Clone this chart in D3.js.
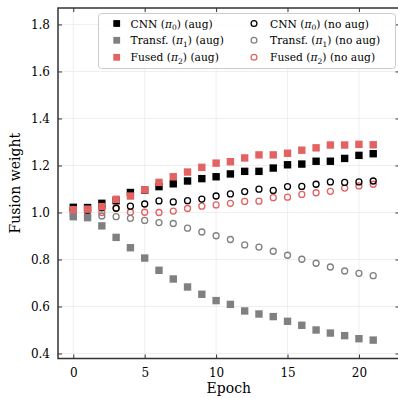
<!DOCTYPE html>
<html><head><meta charset="utf-8">
<script src="https://cdn.jsdelivr.net/npm/d3@7"></script>
<style>
body{margin:0;background:#fff}
svg{display:block}
text{font-family:"DejaVu Serif",serif;fill:#000}
</style>
</head><body>
<svg id="c" width="398" height="398"></svg>
<script>
const epochs = [0,1,2,3,4,5,6,7,8,9,10,11,12,13,14,15,16,17,18,19,20,21];
const cnnAug    = [1.022,1.021,1.039,1.050,1.085,1.095,1.110,1.122,1.134,1.144,1.152,1.164,1.175,1.175,1.189,1.203,1.206,1.218,1.218,1.230,1.243,1.250];
const transfAug = [0.982,0.978,0.943,0.894,0.850,0.806,0.754,0.717,0.683,0.652,0.625,0.609,0.581,0.568,0.557,0.537,0.520,0.500,0.487,0.476,0.463,0.457];
const fusedAug  = [1.012,1.014,1.025,1.056,1.070,1.096,1.128,1.152,1.172,1.192,1.210,1.216,1.232,1.245,1.245,1.252,1.265,1.275,1.287,1.287,1.290,1.288];
const cnnNo     = [1.010,1.010,1.020,1.018,1.027,1.036,1.049,1.045,1.050,1.057,1.070,1.079,1.089,1.099,1.094,1.110,1.111,1.120,1.130,1.128,1.130,1.134];
const transfNo  = [0.985,0.985,0.985,0.982,0.975,0.966,0.957,0.953,0.933,0.917,0.901,0.885,0.862,0.853,0.835,0.818,0.801,0.784,0.768,0.751,0.741,0.731];
const fusedNo   = [1.000,1.000,1.000,1.018,1.001,1.001,1.000,1.006,1.017,1.027,1.032,1.039,1.047,1.048,1.063,1.065,1.077,1.084,1.090,1.104,1.113,1.120];
const xTicks = [0,5,10,15,20];
const yTicks = [0.4,0.6,0.8,1.0,1.2,1.4,1.6,1.8];

const BLACK="#000000", GRAY="#808080", RED="#e36262";
const series = [
  {name:["Fused (","π","2",") (no aug)"], vals:fusedNo, color:RED, shape:"circle"},
  {name:["Transf. (","π","1",") (no aug)"], vals:transfNo, color:GRAY, shape:"circle"},
  {name:["CNN (","π","0",") (no aug)"], vals:cnnNo, color:BLACK, shape:"circle"},
  {name:["CNN (","π","0",") (aug)"], vals:cnnAug, color:BLACK, shape:"square"},
  {name:["Transf. (","π","1",") (aug)"], vals:transfAug, color:GRAY, shape:"square"},
  {name:["Fused (","π","2",") (aug)"], vals:fusedAug, color:RED, shape:"square"}
];

const L=58, R=399.5, T=8, B=358.5;
const x = d3.scaleLinear().domain([-1.07, 22.84]).range([L, R]);
const y = d3.scaleLinear().domain([0.3787, 1.870]).range([B, T]);

const svg = d3.select("#c");
svg.append("rect").attr("width",398).attr("height",398).attr("fill","#fff");

// grid
const grid = svg.append("g");
grid.selectAll("line.gx").data(xTicks).join("line")
  .attr("x1",d=>x(d)).attr("x2",d=>x(d)).attr("y1",T).attr("y2",B)
  .attr("stroke","#ebebeb").attr("stroke-width",0.8);
grid.selectAll("line.gy").data(yTicks).join("line")
  .attr("y1",d=>y(d)).attr("y2",d=>y(d)).attr("x1",L).attr("x2",R)
  .attr("stroke","#ebebeb").attr("stroke-width",0.8);

// markers
const SQ=7.4, CR=3.0;
function drawSeries(g, s){
  if(s.shape==="square"){
    g.selectAll("rect").data(epochs).join("rect")
      .attr("x",(d,i)=>x(d)-SQ/2).attr("y",(d,i)=>y(s.vals[i])-SQ/2)
      .attr("width",SQ).attr("height",SQ).attr("fill",s.color);
  } else {
    g.selectAll("circle").data(epochs).join("circle")
      .attr("cx",d=>x(d)).attr("cy",(d,i)=>y(s.vals[i])).attr("r",CR)
      .attr("fill","none").attr("stroke",s.color).attr("stroke-width",1.3);
  }
}
series.forEach(s=>drawSeries(svg.append("g"), s));

// axes (ticks inward on all sides)
const axCol="#333333";
const fmt = d3.format(".1f");
const gL = svg.append("g").attr("transform",`translate(${L},0)`)
  .call(d3.axisLeft(y).tickValues(yTicks).tickFormat(fmt).tickSizeInner(-4).tickSizeOuter(0).tickPadding(8));
const gB = svg.append("g").attr("transform",`translate(0,${B})`)
  .call(d3.axisBottom(x).tickValues(xTicks).tickFormat(d3.format("d")).tickSizeInner(-4).tickSizeOuter(0).tickPadding(10));
const gRt = svg.append("g").attr("transform",`translate(${R},0)`)
  .call(d3.axisRight(y).tickValues(yTicks).tickFormat("").tickSizeInner(-4).tickSizeOuter(0));
const gTp = svg.append("g").attr("transform",`translate(0,${T})`)
  .call(d3.axisTop(x).tickValues(xTicks).tickFormat("").tickSizeInner(-4).tickSizeOuter(0));
[gL,gB,gRt,gTp].forEach(g=>{
  g.select(".domain").remove();
  g.selectAll(".tick line").attr("stroke",axCol).attr("stroke-width",1);
  g.selectAll("text").attr("font-family","DejaVu Serif").attr("font-size",12).attr("fill","#000");
});
// frame
svg.append("rect").attr("x",L).attr("y",T).attr("width",R-L).attr("height",B-T)
  .attr("fill","none").attr("stroke",axCol).attr("stroke-width",1.5);

// axis labels
svg.append("text").attr("x",(L+R)/2).attr("y",393).attr("text-anchor","middle")
  .attr("font-size",14).text("Epoch");
svg.append("text").attr("transform",`translate(20,${(T+B)/2}) rotate(-90)`).attr("text-anchor","middle")
  .attr("font-size",14).text("Fusion weight");

// legend
const lg = svg.append("g");
lg.append("rect").attr("x",98.5).attr("y",13.5).attr("width",297).attr("height",55).attr("rx",3)
  .attr("fill","#fff").attr("fill-opacity",0.85).attr("stroke","#cccccc").attr("stroke-width",1);
const order = [3,4,5,2,1,0];
const colX = [116.7, 254], textX=[130.5, 270], rowY=[23.5, 40.3, 57.3];
order.forEach((si,k)=>{
  const s=series[si], c=Math.floor(k/3), r=k%3;
  const mx=colX[c], my=rowY[r];
  if(s.shape==="square"){
    lg.append("rect").attr("x",mx-3.4).attr("y",my-3.4).attr("width",6.8).attr("height",6.8).attr("fill",s.color);
  } else {
    lg.append("circle").attr("cx",mx).attr("cy",my).attr("r",2.9).attr("fill","none").attr("stroke",s.color).attr("stroke-width",1.3);
  }
  const t = lg.append("text").attr("x",textX[c]).attr("y",my+4).attr("font-size",10.7);
  t.append("tspan").text(s.name[0]);
  t.append("tspan").attr("font-style","italic").text(s.name[1]);
  t.append("tspan").attr("font-size",7.5).attr("dy",2.5).text(s.name[2]);
  t.append("tspan").attr("dy",-2.5).text(s.name[3]);
});
</script>
</body></html>
